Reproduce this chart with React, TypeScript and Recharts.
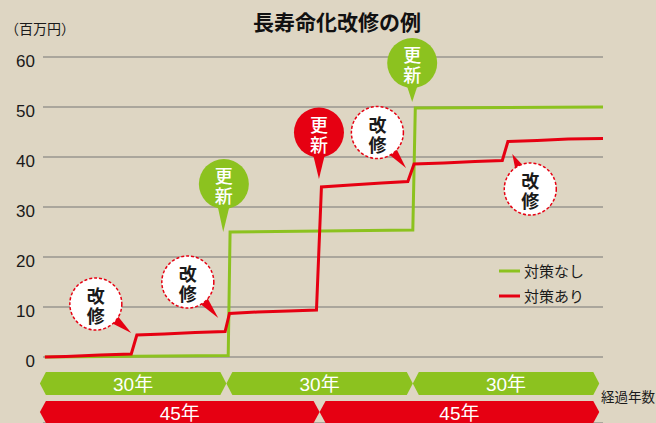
import React from 'react';
import {
  LineChart,
  Line,
  XAxis,
  YAxis,
  CartesianGrid,
  ReferenceArea,
  ReferenceLine,
  Legend,
} from 'recharts';

// ---------- data ----------
const yTicks = [0, 10, 20, 30, 40, 50, 60];

const noMeasureYears = [0.8, 30.3, 30.6, 60.0, 60.4, 90.6];
const noMeasureValues = [0, 0.3, 25.0, 25.4, 49.8, 50.0];

const measureYears = [
  0.8, 4.2, 9.7, 14.7, 15.6, 20, 25, 29.8, 30.5, 35, 40, 44.5, 45.3, 50, 55, 59.2,
  60.2, 65, 70, 74.4, 75.3, 80, 85, 90.6,
];
const measureValues = [
  0, 0.1, 0.4, 0.6, 4.4, 4.6, 4.9, 5.1, 8.7, 9.0, 9.2, 9.4, 34.0, 34.4, 34.8, 35.1,
  38.6, 38.8, 39.1, 39.3, 43.1, 43.3, 43.6, 43.7,
];

const seriesNames = ['対策なし', '対策あり'];

const greenPeriodStarts = [0, 30, 60];
const greenPeriodEnds = [30, 60, 90];
const greenPeriodLabels = ['30年', '30年', '30年'];
const redPeriodStarts = [0, 45];
const redPeriodEnds = [45, 90];
const redPeriodLabels = ['45年', '45年'];

// callouts: anchor (balloon centre) and tip, in data units
const renewLabel = '更新';
const renewSeries = ['none', 'with', 'none'];
const renewYears = [29.6, 44.9, 59.9];
const renewValues = [34.6, 44.9, 58.8];
const renewTipYears = [29.5, 44.9, 59.9];
const renewTipValues = [25.0, 35.6, 51.0];

const repairLabel = '改修';
const repairYears = [9.0, 23.8, 54.3, 78.9];
const repairValues = [10.6, 15.0, 44.9, 33.6];
const repairTipYears = [14.7, 28.7, 58.9, 76.0];
const repairTipValues = [4.8, 7.8, 37.8, 40.6];

// ---------- styles ----------
const GREEN = '#8cc21f';
const RED = '#e60012';
const BG = '#ded6c3';
const GRID = '#99968f';
const TEXT = '#1a1a1a';
const SANS = '"Liberation Sans", Arial, "Noto Sans CJK JP", sans-serif';
const CJK = '"Noto Sans CJK JP", "Noto Sans", sans-serif';

const noMeasureData = noMeasureYears.map((year, i) => ({ year, value: noMeasureValues[i] }));
const measureData = measureYears.map((year, i) => ({ year, value: measureValues[i] }));

const makeBalloon = (kind: 'renew' | 'repair', color: string, text: string) => (props: any) => {
  const { x1, y1, x2, y2 } = props;
  if ([x1, y1, x2, y2].some((v) => typeof v !== 'number' || isNaN(v))) return <g />;
  const r = kind === 'renew' ? 25 : 26;
  const dx = x2 - x1;
  const dy = y2 - y1;
  const len = Math.hypot(dx, dy) || 1;
  const ux = dx / len;
  const uy = dy / len;
  const nx = -uy;
  const ny = ux;
  const hw = kind === 'renew' ? 7 : 6;
  const bx = x1 + ux * r * 0.7;
  const by = y1 + uy * r * 0.7;
  const tail = `M${bx + nx * hw},${by + ny * hw} L${x2},${y2} L${bx - nx * hw},${by - ny * hw} Z`;
  const isRenew = kind === 'renew';
  return (
    <g>
      <path d={tail} fill={color} />
      <circle
        cx={x1}
        cy={y1}
        r={r}
        fill={isRenew ? color : '#ffffff'}
        stroke={isRenew ? 'none' : RED}
        strokeWidth={1.5}
        strokeDasharray={isRenew ? undefined : '3 2'}
      />
      <text
        textAnchor="middle"
        dominantBaseline="central"
        fontSize={18}
        fontFamily={CJK}
        fontWeight={isRenew ? 500 : 700}
        fill={isRenew ? '#ffffff' : TEXT}
      >
        <tspan x={x1} y={y1 - 9}>
          {text[0]}
        </tspan>
        <tspan x={x1} y={y1 + 11}>
          {text[1]}
        </tspan>
      </text>
    </g>
  );
};

const makeBand = (color: string, label: string) => (props: any) => {
  const { x, y, width, height } = props;
  if ([x, y, width, height].some((v) => typeof v !== 'number' || isNaN(v))) return <g />;
  const n = 6;
  const cy = y + height / 2;
  const d = `M${x},${cy} L${x + n},${y} L${x + width - n},${y} L${x + width},${cy} L${x + width - n},${y + height} L${x + n},${y + height} Z`;
  return (
    <g>
      <path d={d} fill={color} />
      <text
        x={x + width / 2}
        y={cy + 1}
        textAnchor="middle"
        dominantBaseline="central"
        fill="#ffffff"
        fontSize={19}
        fontFamily={SANS}
      >
        {label}
      </text>
    </g>
  );
};

const YTick = (props: any) => {
  const { x, y, payload } = props;
  return (
    <text x={x} y={y + 10} textAnchor="end" fontSize={17} fill={TEXT} fontFamily={SANS}>
      {payload.value}
    </text>
  );
};

const LegendContent = (props: any) => {
  const items = [...(props.payload || [])].sort(
    (a: any, b: any) => seriesNames.indexOf(a.value) - seriesNames.indexOf(b.value)
  );
  return (
    <div style={{ fontFamily: CJK, fontSize: 15, color: TEXT }}>
      {items.map((item: any) => (
        <div key={item.value} style={{ display: 'flex', alignItems: 'center', height: 25 }}>
          <svg width={25} height={6} style={{ display: 'block' }}>
            <line x1={0} y1={3} x2={21} y2={3} stroke={item.color} strokeWidth={3} />
          </svg>
          <span style={{ lineHeight: '25px' }}>{item.value}</span>
        </div>
      ))}
    </div>
  );
};

export default function App() {
  return (
    <div
      style={{
        position: 'absolute',
        left: 0,
        top: 0,
        width: 656,
        height: 423,
        background: BG,
        overflow: 'hidden',
      }}
    >
      <div
        style={{
          position: 'absolute',
          left: 0,
          width: 674,
          top: 10,
          height: 22,
          lineHeight: '22px',
          textAlign: 'center',
          fontFamily: CJK,
          fontWeight: 700,
          fontSize: 21,
          color: '#111',
        }}
      >
        長寿命化改修の例
      </div>
      <div
        style={{
          position: 'absolute',
          left: 5,
          top: 21,
          lineHeight: '14px',
          fontFamily: CJK,
          fontSize: 14,
          color: TEXT,
        }}
      >
        （百万円）
      </div>
      <div
        style={{
          position: 'absolute',
          left: 601,
          top: 389,
          lineHeight: '14px',
          fontFamily: CJK,
          fontSize: 13.5,
          color: TEXT,
          whiteSpace: 'nowrap',
        }}
      >
        経過年数
      </div>
      <LineChart
        width={656}
        height={423}
        margin={{ top: 57, right: 53, bottom: 0, left: 0 }}
        style={{ position: 'absolute', left: 0, top: 0 }}
      >
        <CartesianGrid vertical={false} stroke={GRID} strokeWidth={1.5} />
        <XAxis type="number" dataKey="year" domain={[0.5, 90.6]} hide allowDataOverflow />
        <YAxis
          type="number"
          width={43}
          domain={[-13.2, 60]}
          ticks={yTicks}
          axisLine={false}
          tickLine={false}
          tick={<YTick />}
          interval={0}
          allowDataOverflow
        />
        {greenPeriodStarts.map((s, i) => (
          <ReferenceArea
            key={`g${i}`}
            x1={s}
            x2={greenPeriodEnds[i]}
            y1={-3}
            y2={-7.6}
            ifOverflow="visible"
            shape={makeBand(GREEN, greenPeriodLabels[i])}
          />
        ))}
        {redPeriodStarts.map((s, i) => (
          <ReferenceArea
            key={`r${i}`}
            x1={s}
            x2={redPeriodEnds[i]}
            y1={-8.8}
            y2={-13.2}
            ifOverflow="visible"
            shape={makeBand(RED, redPeriodLabels[i])}
          />
        ))}
        <Line
          data={noMeasureData}
          dataKey="value"
          name={seriesNames[0]}
          type="linear"
          stroke={GREEN}
          strokeWidth={3}
          dot={false}
          activeDot={false}
          isAnimationActive={false}
        />
        <Line
          data={measureData}
          dataKey="value"
          name={seriesNames[1]}
          type="linear"
          stroke={RED}
          strokeWidth={3}
          dot={false}
          activeDot={false}
          isAnimationActive={false}
        />
        {renewYears.map((yr, i) => (
          <ReferenceLine
            key={`rn${i}`}
            segment={[
              { x: yr, y: renewValues[i] },
              { x: renewTipYears[i], y: renewTipValues[i] },
            ]}
            ifOverflow="visible"
            shape={makeBalloon('renew', renewSeries[i] === 'none' ? GREEN : RED, renewLabel)}
          />
        ))}
        {repairYears.map((yr, i) => (
          <ReferenceLine
            key={`rp${i}`}
            segment={[
              { x: yr, y: repairValues[i] },
              { x: repairTipYears[i], y: repairTipValues[i] },
            ]}
            ifOverflow="visible"
            shape={makeBalloon('repair', RED, repairLabel)}
          />
        ))}
        <Legend
          layout="vertical"
          align="center"
          verticalAlign="middle"
          content={<LegendContent />}
          wrapperStyle={{ left: 499, top: 258, width: 110, height: 50 }}
        />
      </LineChart>
    </div>
  );
}
